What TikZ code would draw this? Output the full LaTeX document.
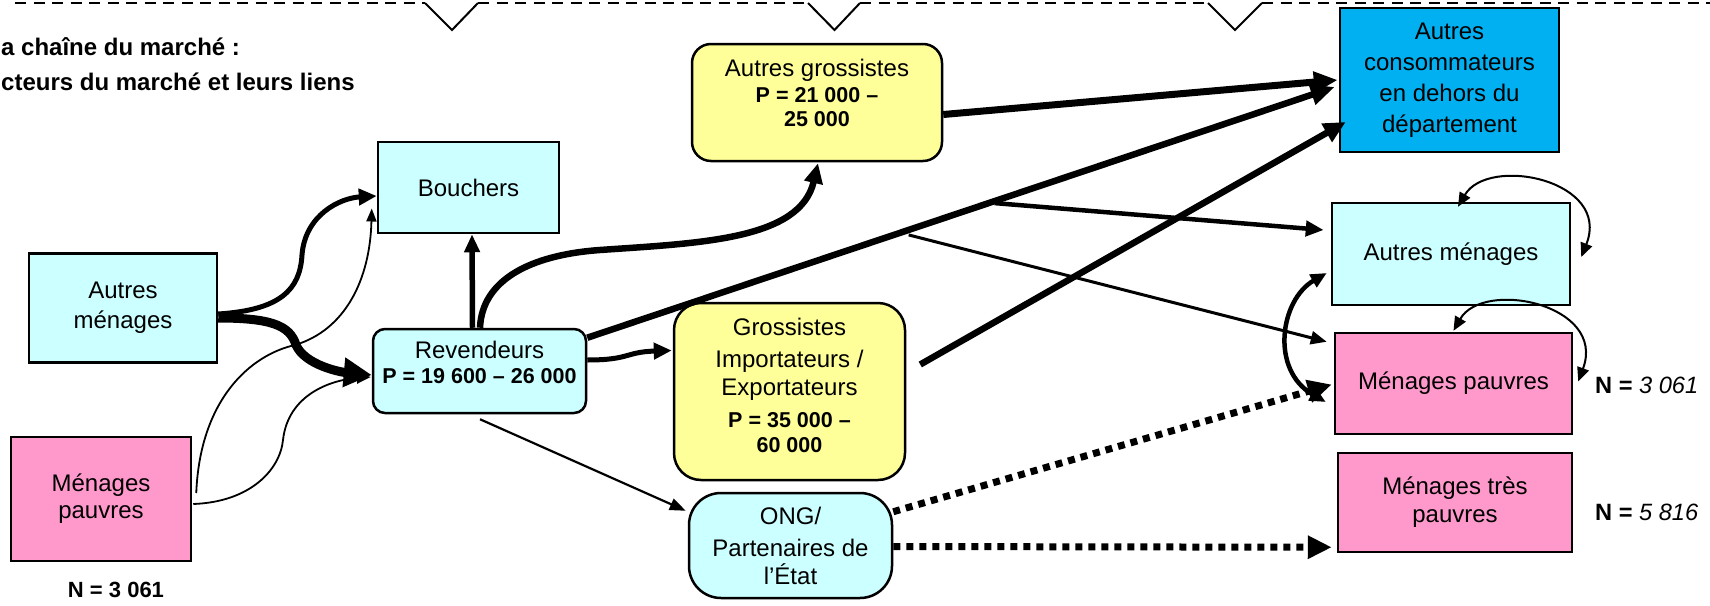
\documentclass[tikz,border=0pt]{standalone}
\usepackage{fontspec}
\setmainfont{Liberation Sans}
\usetikzlibrary{arrows.meta,calc}
\definecolor{cyanl}{HTML}{CCFFFF}
\definecolor{pinkb}{HTML}{FF99CC}
\definecolor{yellowb}{HTML}{FFFF99}
\definecolor{blueb}{HTML}{00B0F0}
\newcommand\pbline{\bfseries\fontsize{21.5}{25}\selectfont}
\begin{document}
\begin{tikzpicture}[x=1pt,y=-1pt,
  box/.style={draw=black, line width=2.5pt, inner sep=0pt, align=center, font=\fontsize{24}{30}\selectfont},
  rbox/.style={box, rounded corners=#1},
  txt/.style={inner sep=0pt, align=center, font=\fontsize{24}{30}\selectfont},
  ntext/.style={inner sep=0pt, font=\fontsize{23.6}{28}\selectfont},
  title/.style={inner sep=0pt, anchor=west, font=\bfseries\fontsize{24}{28}\selectfont},
  sep/.style={line width=2pt},
  dotarr/.style={line width=7pt, dash pattern=on 7pt off 6pt, -{Triangle[length=24pt,width=22pt]}},
  thin/.style={line width=1.8pt}
]
\useasboundingbox (0,0) rectangle (1710,605);

% top separator
\draw[sep, dash pattern=on 11pt off 7.5pt] (15,3) -- (425,3);
\draw[sep] (425,3) -- (452,30) -- (478,3);
\draw[sep, dash pattern=on 11pt off 7.5pt] (478,3) -- (808,3);
\draw[sep] (808,3) -- (834.5,30) -- (860,3);
\draw[sep, dash pattern=on 11pt off 7.5pt] (860,3) -- (1208,3);
\draw[sep] (1208,3) -- (1235,30) -- (1262,3);
\draw[sep, dash pattern=on 11pt off 7.5pt] (1262,3) -- (1710,3);

% title
\node[title] (t1) at (1,47) {a chaîne du marché :};
\node[title] (t2) at (1,82) {cteurs du marché et leurs liens};

% boxes
\node[box, fill=cyanl, minimum width=181, minimum height=91] (bouch) at (468.5,187.5) {Bouchers};
\node[box, fill=cyanl, minimum width=188, minimum height=109] (amL) at (123,308) {Autres\\ménages};
\node[box, fill=pinkb, minimum width=180, minimum height=124] (mpL) at (101,499) {Ménages\\[-3pt]pauvres};
\node[ntext, font=\bfseries\fontsize{22}{26}\selectfont] (nL) at (116,590) {N = 3 061};

\node[rbox=12pt, fill=cyanl, minimum width=213, minimum height=84] (rev) at (479.5,371) {};
\node[txt] (revt) at (479.5,362) {Revendeurs\\[-5pt]{\pbline P = 19 600 – 26 000}};

\node[rbox=19pt, fill=yellowb, minimum width=250, minimum height=117] (ag) at (817,102.5) {};
\node[txt] (agt) at (817,93) {Autres grossistes\\[-4pt]{\pbline P = 21 000 –}\\[-6pt]{\pbline 25 000}};

\node[rbox=27pt, fill=yellowb, minimum width=231, minimum height=177] (gie) at (789.5,391.5) {};
\node[txt] (giet) at (789.5,385) {Grossistes\\[2pt]Importateurs /\\[-2pt]Exportateurs\\[2pt]{\pbline P = 35 000 –}\\[-5pt]{\pbline 60 000}};

\node[rbox=32pt, fill=cyanl, minimum width=203, minimum height=105] (ong) at (790.5,545.5) {ONG/\\[2pt]Partenaires de\\[-2pt]l’État};

\node[box, fill=blueb, minimum width=219, minimum height=144, font=\fontsize{24}{31}\selectfont] (ac) at (1449.5,80) {Autres\\consommateurs\\en dehors du\\département};
\node[box, fill=cyanl, minimum width=238, minimum height=102] (amR) at (1451,254) {Autres ménages};
\node[box, fill=pinkb, minimum width=237, minimum height=101] (mpR) at (1453.5,383.5) {Ménages pauvres};
\node[box, fill=pinkb, minimum width=234, minimum height=99] (mtp) at (1455,502.5) {Ménages très\\[-2pt]pauvres};

\node[ntext, anchor=west] (nR1) at (1595,385) {\textbf{N =} \textit{3 061}};
\node[ntext, anchor=west] (nR2) at (1595,512) {\textbf{N =} \textit{5 816}};

% connectors
\draw[line width=5pt, -{Triangle[length=18pt,width=16pt]}]
  ($(amL.east)+(0,6)$) .. controls (280,310) and (300,290) .. (302,255)
  .. controls (305,215) and (340,198) .. ($(bouch.west)+(0,8.5)$);
\draw[line width=9pt, -{Triangle[length=28pt,width=28pt]}]
  ($(amL.east)+(0,10)$) .. controls (270,318) and (290,325) .. (296,345)
  .. controls (305,365) and (340,372) .. ($(rev.west)+(0,4)$);
\draw[thin, -{Triangle[length=13pt,width=10pt]}]
  ($(mpL.east)+(4,-6)$) .. controls (200,400) and (250,355) .. (295,345)
  .. controls (345,330) and (370,280) .. ($(bouch.west)+(-5,21)$);
\draw[thin, -{Triangle[length=14pt,width=11pt]}]
  ($(mpL.east)+(1,5)$) .. controls (250,502) and (280,470) .. (283,440)
  .. controls (288,395) and (330,380) .. ($(rev.west)+(-1,6)$);
\draw[line width=5.5pt, -{Triangle[length=18pt,width=15pt]}]
  ($(rev.north)+(-7,0)$) -- ($(bouch.south)+(3.5,0)$);
\draw[line width=6.5pt, -{Triangle[length=20pt,width=18pt]}]
  ($(rev.north)+(0.5,0)$) .. controls (482,280) and (530,255) .. (600,250)
  .. controls (700,243) and (800,240) .. ($(ag.south)+(1,1)$);
\draw[line width=7pt, -{Triangle[length=24pt,width=20pt]}]
  ($(ag.east)+(0,12)$) -- ($(ac.west)+(-1,0)$);
\coordinate (a8s) at ($(rev.north east)+(0,10)$);
\coordinate (a8e) at ($(ac.west)+(-4,7)$);
\draw[line width=6.5pt, -{Triangle[length=24pt,width=20pt]}] (a8s) -- (a8e);
\coordinate (br1) at ($($(a8s)!0.545!(a8e)$)+(0,2)$);
\coordinate (br2) at ($($(a8s)!0.43!(a8e)$)+(0,5)$);
\draw[line width=4.5pt, -{Triangle[length=18pt,width=15pt]}] (br1) -- ($(amR.west)+(-7,-24)$);
\draw[line width=3pt, -{Triangle[length=16pt,width=13pt]}] (br2) -- ($(mpR.north west)+(-7,10)$);
\coordinate (a9s) at ($(gie.east)+(14,-27)$);
\draw[line width=6.5pt, -{Triangle[length=22pt,width=20pt]}] (a9s) -- ($(ac.west)+(7,42)$);
\draw[line width=2.2pt, -{Triangle[length=16pt,width=12pt]}]
  ($(rev.south)+(0.5,5)$) -- ($(ong.north west)+(-2,19)$);
\draw[line width=5pt, -{Triangle[length=18pt,width=16pt]}]
  ($(rev.east)+(0,-11)$) .. controls (630,360) and (625,352) .. ($(gie.west)+(-1,-41)$);
\draw[dotarr] ($(ong.north east)+(0,20)$) -- ($(mpR.west)+(-2,1)$);
\draw[dotarr] ($(ong.east)+(0,1)$) -- ($(mtp.south west)+(-5,-6)$);
\draw[line width=4.5pt, {Triangle[length=16pt,width=14pt]}-{Triangle[length=16pt,width=14pt]}]
  ($(amR.west)+(-4,19)$) .. controls (1280,300) and (1270,370) .. ($(mpR.west)+(-8,18.5)$);
\draw[line width=2pt, {Triangle[length=14pt,width=12pt]}-{Triangle[length=14pt,width=12pt]}]
  ($(amR.north)+(7,5)$) .. controls (1488,155) and (1612,180) .. ($(amR.east)+(10,3)$);
\draw[line width=2pt, {Triangle[length=14pt,width=12pt]}-{Triangle[length=14pt,width=12pt]}]
  ($(mpR.north)+(0,-1)$) .. controls (1483,279) and (1607,304) .. ($(mpR.east)+(5,-2)$);
\end{tikzpicture}
\end{document}
